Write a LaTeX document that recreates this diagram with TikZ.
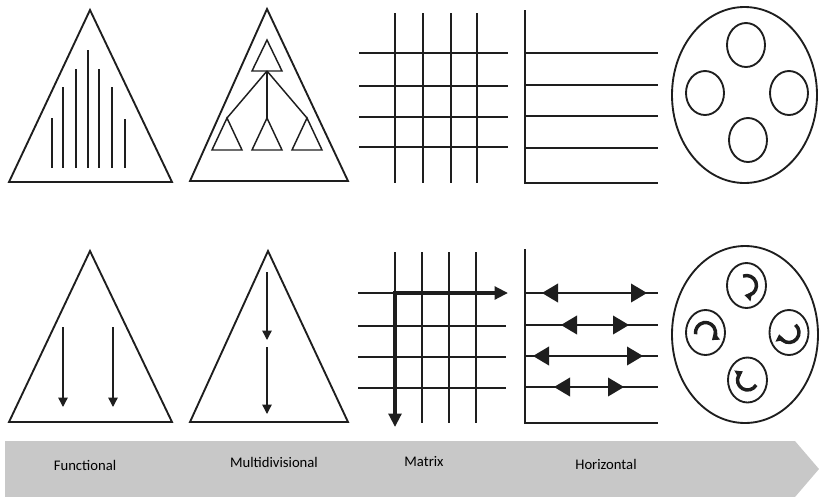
\documentclass[tikz,border=0pt]{standalone}
\usepackage{fontspec}
\setmainfont{Carlito}
\usetikzlibrary{arrows.meta,positioning}

\definecolor{bandgray}{RGB}{200,200,200}
\definecolor{inkgray}{RGB}{30,30,30}

\tikzset{
  flow/.style={-{Triangle[length=7pt,width=7pt]}, line width=1pt},
  twoway/.style={{Triangle[length=12pt,width=14pt]}-{Triangle[length=12pt,width=14pt]}, line width=1.2pt},
  bigflow/.style={{Triangle[length=10pt,width=9.5pt]}-{Triangle[length=10pt,width=9.5pt]}, line width=2.4pt, line join=miter},
  turn/.style={-{Triangle[length=5pt,width=7pt]}, line width=2.6pt},
  lbl/.style={font=\fontsize{11}{13}\selectfont, inner sep=0pt}
}

\begin{document}
\begin{tikzpicture}[x=0.75pt, y=-0.75pt, line width=1.4pt, draw=inkgray, line join=miter]
    \useasboundingbox (0,0) rectangle (819,497);

    % Functional (top)
    \draw (9,182) -- (90,10) -- (172,182) -- cycle;
    \foreach \x/\t in {52/118,63/87,76/69,88/50,99/69,112/87,125/119}
      \draw (\x,\t) -- (\x,168);

    % Multidivisional (top)
    \draw (190,181) -- (267,9) -- (348,181) -- cycle;
    \draw[line width=1.1pt] (252,71) -- (267,40) -- (282,71) -- cycle;
    \foreach \x in {227,267,307} {
      \draw[line width=1.1pt] (\x-15,150) -- (\x,118) -- (\x+15,150) -- cycle;
      \draw[line width=1.1pt] (267,71) -- (\x,118);
    }

    % Matrix (top)
    \foreach \x in {395,423,451,477}
      \draw (\x,13) -- (\x,183);
    \foreach \y in {53,86,117,147}
      \draw (359,\y) -- (508,\y);

    % Horizontal (top)
    \draw (525,10) -- (525,183) -- (658,183);
    \foreach \y in {53,85,116,148}
      \draw (525,\y) -- (658,\y);

    % Circle (top)
    \draw (744.5,95) ellipse [x radius=72.5, y radius=88];
    \foreach \cx/\cy in {746/45,705/93,789/93,748/140}
      \draw (\cx,\cy) ellipse [x radius=19, y radius=22];

    % Functional (bottom)
    \draw (9,422) -- (90,251) -- (172,422) -- cycle;
    \foreach \x in {63,113}
      \draw[flow] (\x,327) -- (\x,407);

    % Multidivisional (bottom)
    \draw (190,422) -- (268,251) -- (348,422) -- cycle;
    \draw[flow] (267,272) -- (267,340);
    \draw[flow] (267,347) -- (267,414);

    % Matrix (bottom)
    \foreach \x in {422,449,476}
      \draw (\x,252) -- (\x,423);
    \draw (395,252) -- (395,293);
    \foreach \y in {293,326,357,388}
      \draw (358,\y) -- (506,\y);
    \draw[bigflow] (508,293) -- (395,293) -- (395,427);

    % Horizontal (bottom)
    \draw (525,249) -- (525,423) -- (658,423);
    \foreach \y/\a/\b in {293/542/647,325/561/629,356/533/643,387/554/624} {
      \draw (525,\y) -- (658,\y);
      \draw[twoway] (\a,\y) -- (\b,\y);
    }

    % Circle (bottom)
    \draw (745,334.5) ellipse [x radius=73, y radius=88.5];
    \foreach \cx/\cy/\s/\e in {746.5/285.5/-110/100,705.5/332.5/170/410,789/332.5/-50/170,747.5/380/30/240} {
      \draw (\cx,\cy) ellipse [x radius=19.5, y radius=22.5];
      \draw[turn] ([shift={(\s:10)}]\cx,\cy) arc [start angle=\s, end angle=\e, radius=10];
    }

    % Band with labels
    \fill[bandgray] (5,441) -- (795,441) -- (819,469) -- (795,497) -- (5,497) -- cycle;
    \node[lbl] (functional) at (85,465) {Functional};
    \node[lbl] (multidivisional) at (274,462) {Multidivisional};
    \node[lbl] (matrix) at (424,462) {Matrix};
    \node[lbl] (horizontal) at (606,464) {Horizontal};
\end{tikzpicture}
\end{document}
